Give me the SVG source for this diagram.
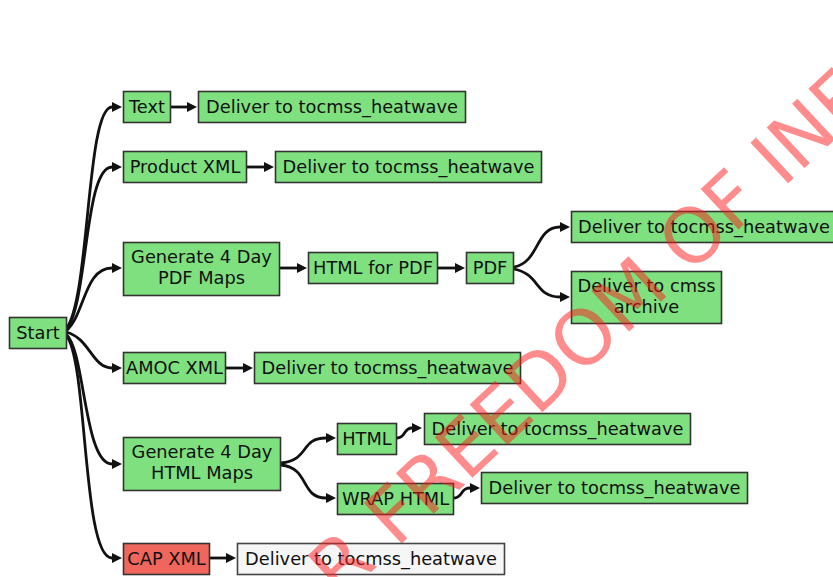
<svg xmlns="http://www.w3.org/2000/svg" width="833" height="577" viewBox="0 0 833 577">
  <defs>
    <marker id="arrow" viewBox="0 0 10 10" refX="0" refY="5" markerUnits="userSpaceOnUse" markerWidth="12" markerHeight="10" orient="auto">
      <path d="M0,0 L10,5 L0,10 z" fill="#111"/>
    </marker>
    <style>
      .box { fill: #7fe07f; stroke: #333; stroke-width: 1.6; }
      .box-fail { fill: #f0665c; stroke: #333; stroke-width: 1.6; }
      .box-idle { fill: #f6f6f6; stroke: #444; stroke-width: 1.6; }
      .lbl { font-family: "DejaVu Sans", "Liberation Sans", sans-serif; font-size: 17.8px; fill: #111; text-anchor: middle; }
      .edge { fill: none; stroke: #111; stroke-width: 2.8; marker-end: url(#arrow); }
      .stamp { font-family: "DejaVu Sans", "Liberation Sans", sans-serif; font-size: 76px; fill: #ff1a1a; fill-opacity: 0.5; }
    </style>
  </defs>

  <rect width="833" height="577" fill="#ffffff"/>

  <!-- connectors -->
  <g id="edges">
    <path class="edge" d="M66,329 C90,300 86,107 112,107"/>
    <path class="edge" d="M66,330 C88,305 84,167 112,167"/>
    <path class="edge" d="M66,331 C85,315 84,268 112,268"/>
    <path class="edge" d="M66,332 C90,338 92,368 112,368"/>
    <path class="edge" d="M66,334 C85,350 84,464 112,464"/>
    <path class="edge" d="M66,335 C88,360 82,558 112,558"/>

    <path class="edge" d="M171,107 L187,107"/>
    <path class="edge" d="M247,167 L264,167"/>
    <path class="edge" d="M280,268 L297,268"/>
    <path class="edge" d="M438,268 L455,268"/>
    <path class="edge" d="M226,368 L243,368"/>
    <path class="edge" d="M210,558 L226,558"/>

    <path class="edge" d="M514,267 C540,262 535,227 560,227"/>
    <path class="edge" d="M514,269 C540,274 535,297 560,297"/>

    <path class="edge" d="M281,463 C310,460 300,438 326,438"/>
    <path class="edge" d="M281,465 C310,468 300,498 326,498"/>

    <path class="edge" d="M397,438 C406,438 403,428 412,428"/>
    <path class="edge" d="M454,498 C463,498 460,488 470,488"/>
  </g>

  <!-- nodes -->
  <g id="start">
    <rect class="box" x="9.5" y="317.5" width="57" height="31"/>
    <text class="lbl" x="38" y="339">Start</text>
  </g>
  <g id="text">
    <rect class="box" x="123.5" y="91.5" width="47" height="31"/>
    <text class="lbl" x="147" y="113">Text</text>
  </g>
  <g id="deliver-text">
    <rect class="box" x="198.5" y="91.5" width="267" height="31"/>
    <text class="lbl" x="332" y="113">Deliver to tocmss_heatwave</text>
  </g>
  <g id="product-xml">
    <rect class="box" x="123.5" y="151.5" width="123" height="31"/>
    <text class="lbl" x="185" y="173">Product XML</text>
  </g>
  <g id="deliver-product-xml">
    <rect class="box" x="275.5" y="151.5" width="266" height="31"/>
    <text class="lbl" x="408.5" y="173">Deliver to tocmss_heatwave</text>
  </g>
  <g id="pdf-maps">
    <rect class="box" x="123.5" y="242.5" width="156" height="53"/>
    <text class="lbl" x="201.5" y="263">Generate 4 Day</text>
    <text class="lbl" x="201.5" y="284">PDF Maps</text>
  </g>
  <g id="html-for-pdf">
    <rect class="box" x="308.5" y="252.5" width="129" height="31"/>
    <text class="lbl" x="373" y="274">HTML for PDF</text>
  </g>
  <g id="pdf">
    <rect class="box" x="466.5" y="252.5" width="47" height="31"/>
    <text class="lbl" x="490" y="274">PDF</text>
  </g>
  <g id="deliver-pdf">
    <rect class="box" x="571.5" y="211.5" width="272" height="31"/>
    <text class="lbl" x="704" y="233">Deliver to tocmss_heatwave</text>
  </g>
  <g id="deliver-archive">
    <rect class="box" x="571.5" y="271.5" width="150" height="52"/>
    <text class="lbl" x="646.5" y="292">Deliver to cmss</text>
    <text class="lbl" x="646.5" y="313">archive</text>
  </g>
  <g id="amoc-xml">
    <rect class="box" x="123.5" y="352.5" width="102" height="31"/>
    <text class="lbl" x="174.5" y="374">AMOC XML</text>
  </g>
  <g id="deliver-amoc">
    <rect class="box" x="254.5" y="352.5" width="266" height="31"/>
    <text class="lbl" x="387.5" y="374">Deliver to tocmss_heatwave</text>
  </g>
  <g id="html-maps">
    <rect class="box" x="123.5" y="437.5" width="157" height="53"/>
    <text class="lbl" x="202" y="458">Generate 4 Day</text>
    <text class="lbl" x="202" y="479">HTML Maps</text>
  </g>
  <g id="html">
    <rect class="box" x="337.5" y="423.5" width="59" height="31"/>
    <text class="lbl" x="367" y="445">HTML</text>
  </g>
  <g id="deliver-html">
    <rect class="box" x="424.5" y="413.5" width="266" height="31"/>
    <text class="lbl" x="557.5" y="435">Deliver to tocmss_heatwave</text>
  </g>
  <g id="wrap-html">
    <rect class="box" x="337.5" y="483.5" width="116" height="31"/>
    <text class="lbl" x="395.5" y="505">WRAP HTML</text>
  </g>
  <g id="deliver-wrap">
    <rect class="box" x="481.5" y="472.5" width="266" height="31"/>
    <text class="lbl" x="614.5" y="494">Deliver to tocmss_heatwave</text>
  </g>
  <g id="cap-xml">
    <rect class="box-fail" x="123.5" y="543.5" width="86" height="31"/>
    <text class="lbl" x="166.5" y="565">CAP XML</text>
  </g>
  <g id="deliver-cap">
    <rect class="box-idle" x="237.5" y="543.5" width="267" height="31"/>
    <text class="lbl" x="371" y="565">Deliver to tocmss_heatwave</text>
  </g>

  <!-- release stamp across the chart -->
  <text class="stamp" transform="translate(340,601) rotate(-43)" x="0" y="0">R FREEDOM OF INF</text>
</svg>
